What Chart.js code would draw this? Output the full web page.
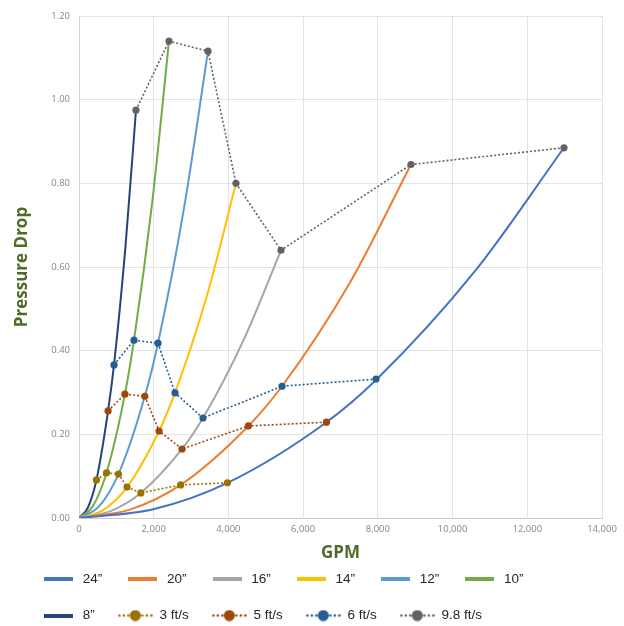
<!DOCTYPE html>
<html><head><meta charset="utf-8">
<script src="https://cdn.jsdelivr.net/npm/chart.js@4.4.1/dist/chart.umd.min.js"></script>
<style>html,body{margin:0;padding:0;background:#fff;}#wrap{width:624px;height:626px;}</style>
</head><body><div id="wrap"><canvas id="c" width="624" height="626"></canvas></div>
<script>
// ---- data ----
const pipeNames = ['24”', '20”', '16”', '14”', '12”', '10”', '8”'];
const gpm24 = [0, 1987, 3974, 6623, 7950, 10598, 12982];
const drop24 = [0, 0.021, 0.084, 0.229, 0.330, 0.590, 0.885];
const gpm20 = [0, 1360, 2720, 4534, 5434, 7255, 8887];
const drop20 = [0, 0.020, 0.079, 0.220, 0.315, 0.563, 0.845];
const gpm16 = [0, 828, 1655, 2759, 3319, 4414, 5407];
const drop16 = [0, 0.016, 0.060, 0.165, 0.239, 0.427, 0.640];
const gpm14 = [0, 643, 1286, 2144, 2570, 3430, 4202];
const drop14 = [0, 0.019, 0.074, 0.208, 0.299, 0.533, 0.800];
const gpm12 = [0, 528, 1057, 1762, 2115, 2819, 3453];
const drop12 = [0, 0.027, 0.105, 0.291, 0.418, 0.745, 1.116];
const gpm10 = [0, 369, 737, 1229, 1472, 1967, 2409];
const drop10 = [0, 0.028, 0.108, 0.296, 0.425, 0.760, 1.140];
const gpm8 = [0, 233, 467, 778, 937, 1245, 1525];
const drop8 = [0, 0.024, 0.091, 0.256, 0.366, 0.650, 0.975];

const velocityNames = ['3 ft/s', '5 ft/s', '6 ft/s', '9.8 ft/s'];
const gpmV3 = [467, 737, 1057, 1286, 1655, 2720, 3974];
const dropV3 = [0.091, 0.108, 0.105, 0.074, 0.060, 0.079, 0.084];
const gpmV5 = [778, 1229, 1762, 2144, 2759, 4534, 6623];
const dropV5 = [0.256, 0.296, 0.291, 0.208, 0.165, 0.220, 0.229];
const gpmV6 = [937, 1472, 2115, 2570, 3319, 5434, 7950];
const dropV6 = [0.366, 0.425, 0.418, 0.299, 0.239, 0.315, 0.332];
const gpmV98 = [1525, 2409, 3453, 4202, 5407, 8887, 12982];
const dropV98 = [0.975, 1.140, 1.116, 0.800, 0.640, 0.845, 0.885];

const xTickValues = [0, 2000, 4000, 6000, 8000, 10000, 12000, 14000];
const xTickLabels = ['0', '2,000', '4,000', '6,000', '8,000', '10,000', '12,000', '14,000'];
const yTickValues = [0, 0.2, 0.4, 0.6, 0.8, 1.0, 1.2];
const yTickLabels = ['0.00', '0.20', '0.40', '0.60', '0.80', '1.00', '1.20'];

// ---- styling ----
const pipeColors = ['#4472C4', '#ED7D31', '#A5A5A5', '#FFC000', '#5B9BD5', '#70AD47', '#264478'];
const velColors = ['#997300', '#9E480E', '#255E91', '#636363'];
const green = '#4F6B2A';

function solidIcon(color) {
  const c = document.createElement('canvas');
  c.width = 29; c.height = 4;
  const g = c.getContext('2d');
  g.fillStyle = color; g.fillRect(0, 0, 29, 4);
  return c;
}
function dottedIcon(color) {
  const c = document.createElement('canvas');
  c.width = 35; c.height = 12;
  const g = c.getContext('2d');
  g.fillStyle = color;
  [1.5, 6, 10.5, 24.5, 29, 33.5].forEach(x => { g.beginPath(); g.arc(x, 6, 1.3, 0, Math.PI * 2); g.fill(); });
  g.beginPath(); g.arc(17.5, 6, 5.5, 0, Math.PI * 2); g.fill();
  return c;
}

const pipeGpm = [gpm24, gpm20, gpm16, gpm14, gpm12, gpm10, gpm8];
const pipeDrop = [drop24, drop20, drop16, drop14, drop12, drop10, drop8];
const velGpm = [gpmV3, gpmV5, gpmV6, gpmV98];
const velDrop = [dropV3, dropV5, dropV6, dropV98];

const datasets = [];
pipeNames.forEach((name, i) => {
  datasets.push({
    label: name,
    data: pipeGpm[i].map((x, j) => ({x: x, y: pipeDrop[i][j]})),
    borderColor: pipeColors[i], backgroundColor: pipeColors[i],
    borderWidth: 2, pointRadius: 0, cubicInterpolationMode: 'monotone',
    order: 2, legendIcon: solidIcon(pipeColors[i])
  });
});
velocityNames.forEach((name, i) => {
  datasets.push({
    label: name,
    data: velGpm[i].map((x, j) => ({x: x, y: velDrop[i][j]})),
    borderColor: velColors[i], backgroundColor: velColors[i],
    borderWidth: 1.6, borderDash: [2, 2], tension: 0,
    pointRadius: 3.6, pointBorderWidth: 0, pointBackgroundColor: velColors[i],
    order: 1, legendIcon: dottedIcon(velColors[i])
  });
});

const tickFont = {family: "'Open Sans', sans-serif", size: 9.5};
const titleFont = {family: "'Open Sans', sans-serif", size: 17, weight: 'bold', lineHeight: 1.2};

new Chart(document.getElementById('c'), {
  type: 'line',
  data: {datasets: datasets},
  options: {
    responsive: false, animation: false,
    layout: {padding: {left: 18, right: 22, top: 16, bottom: 0}},
    plugins: {
      tooltip: {enabled: false},
      legend: {
        position: 'bottom', align: 'start', maxHeight: 76.75,
        labels: {
          usePointStyle: true, pointStyleWidth: 35, padding: 23,
          color: '#262626',
          font: {family: "'Liberation Sans', Arial, sans-serif", size: 13.5},
          sort: (a, b) => a.datasetIndex - b.datasetIndex,
          generateLabels: (chart) => {
            const items = Chart.defaults.plugins.legend.labels.generateLabels(chart);
            items.forEach(it => { it.pointStyle = chart.data.datasets[it.datasetIndex].legendIcon; });
            return items;
          }
        }
      }
    },
    scales: {
      x: {
        type: 'linear', min: 0, max: 14000,
        afterBuildTicks: (s) => { s.ticks = xTickValues.map(v => ({value: v})); },
        afterFit: (s) => { s.height = 31.25; },
        ticks: {font: tickFont, color: '#858585', padding: 6, maxRotation: 0,
          callback: (v, i) => xTickLabels[i]},
        grid: {color: '#E3E3E3', drawTicks: false},
        border: {color: '#CFC9C9'},
        title: {display: true, text: 'GPM', color: green, font: titleFont, padding: {top: 0, bottom: -13.95}}
      },
      y: {
        type: 'linear', min: 0, max: 1.2,
        afterBuildTicks: (s) => { s.ticks = yTickValues.map(v => ({value: v})); },
        afterFit: (s) => { s.width = 61; },
        ticks: {font: tickFont, color: '#858585', padding: 9,
          callback: (v, i) => yTickLabels[i]},
        grid: {color: '#E3E3E3', drawTicks: false},
        border: {color: '#D6D6D6'},
        title: {display: true, text: 'Pressure Drop', color: green, font: titleFont, padding: {top: -6, bottom: 0}}
      }
    }
  }
});
</script>
</body></html>
